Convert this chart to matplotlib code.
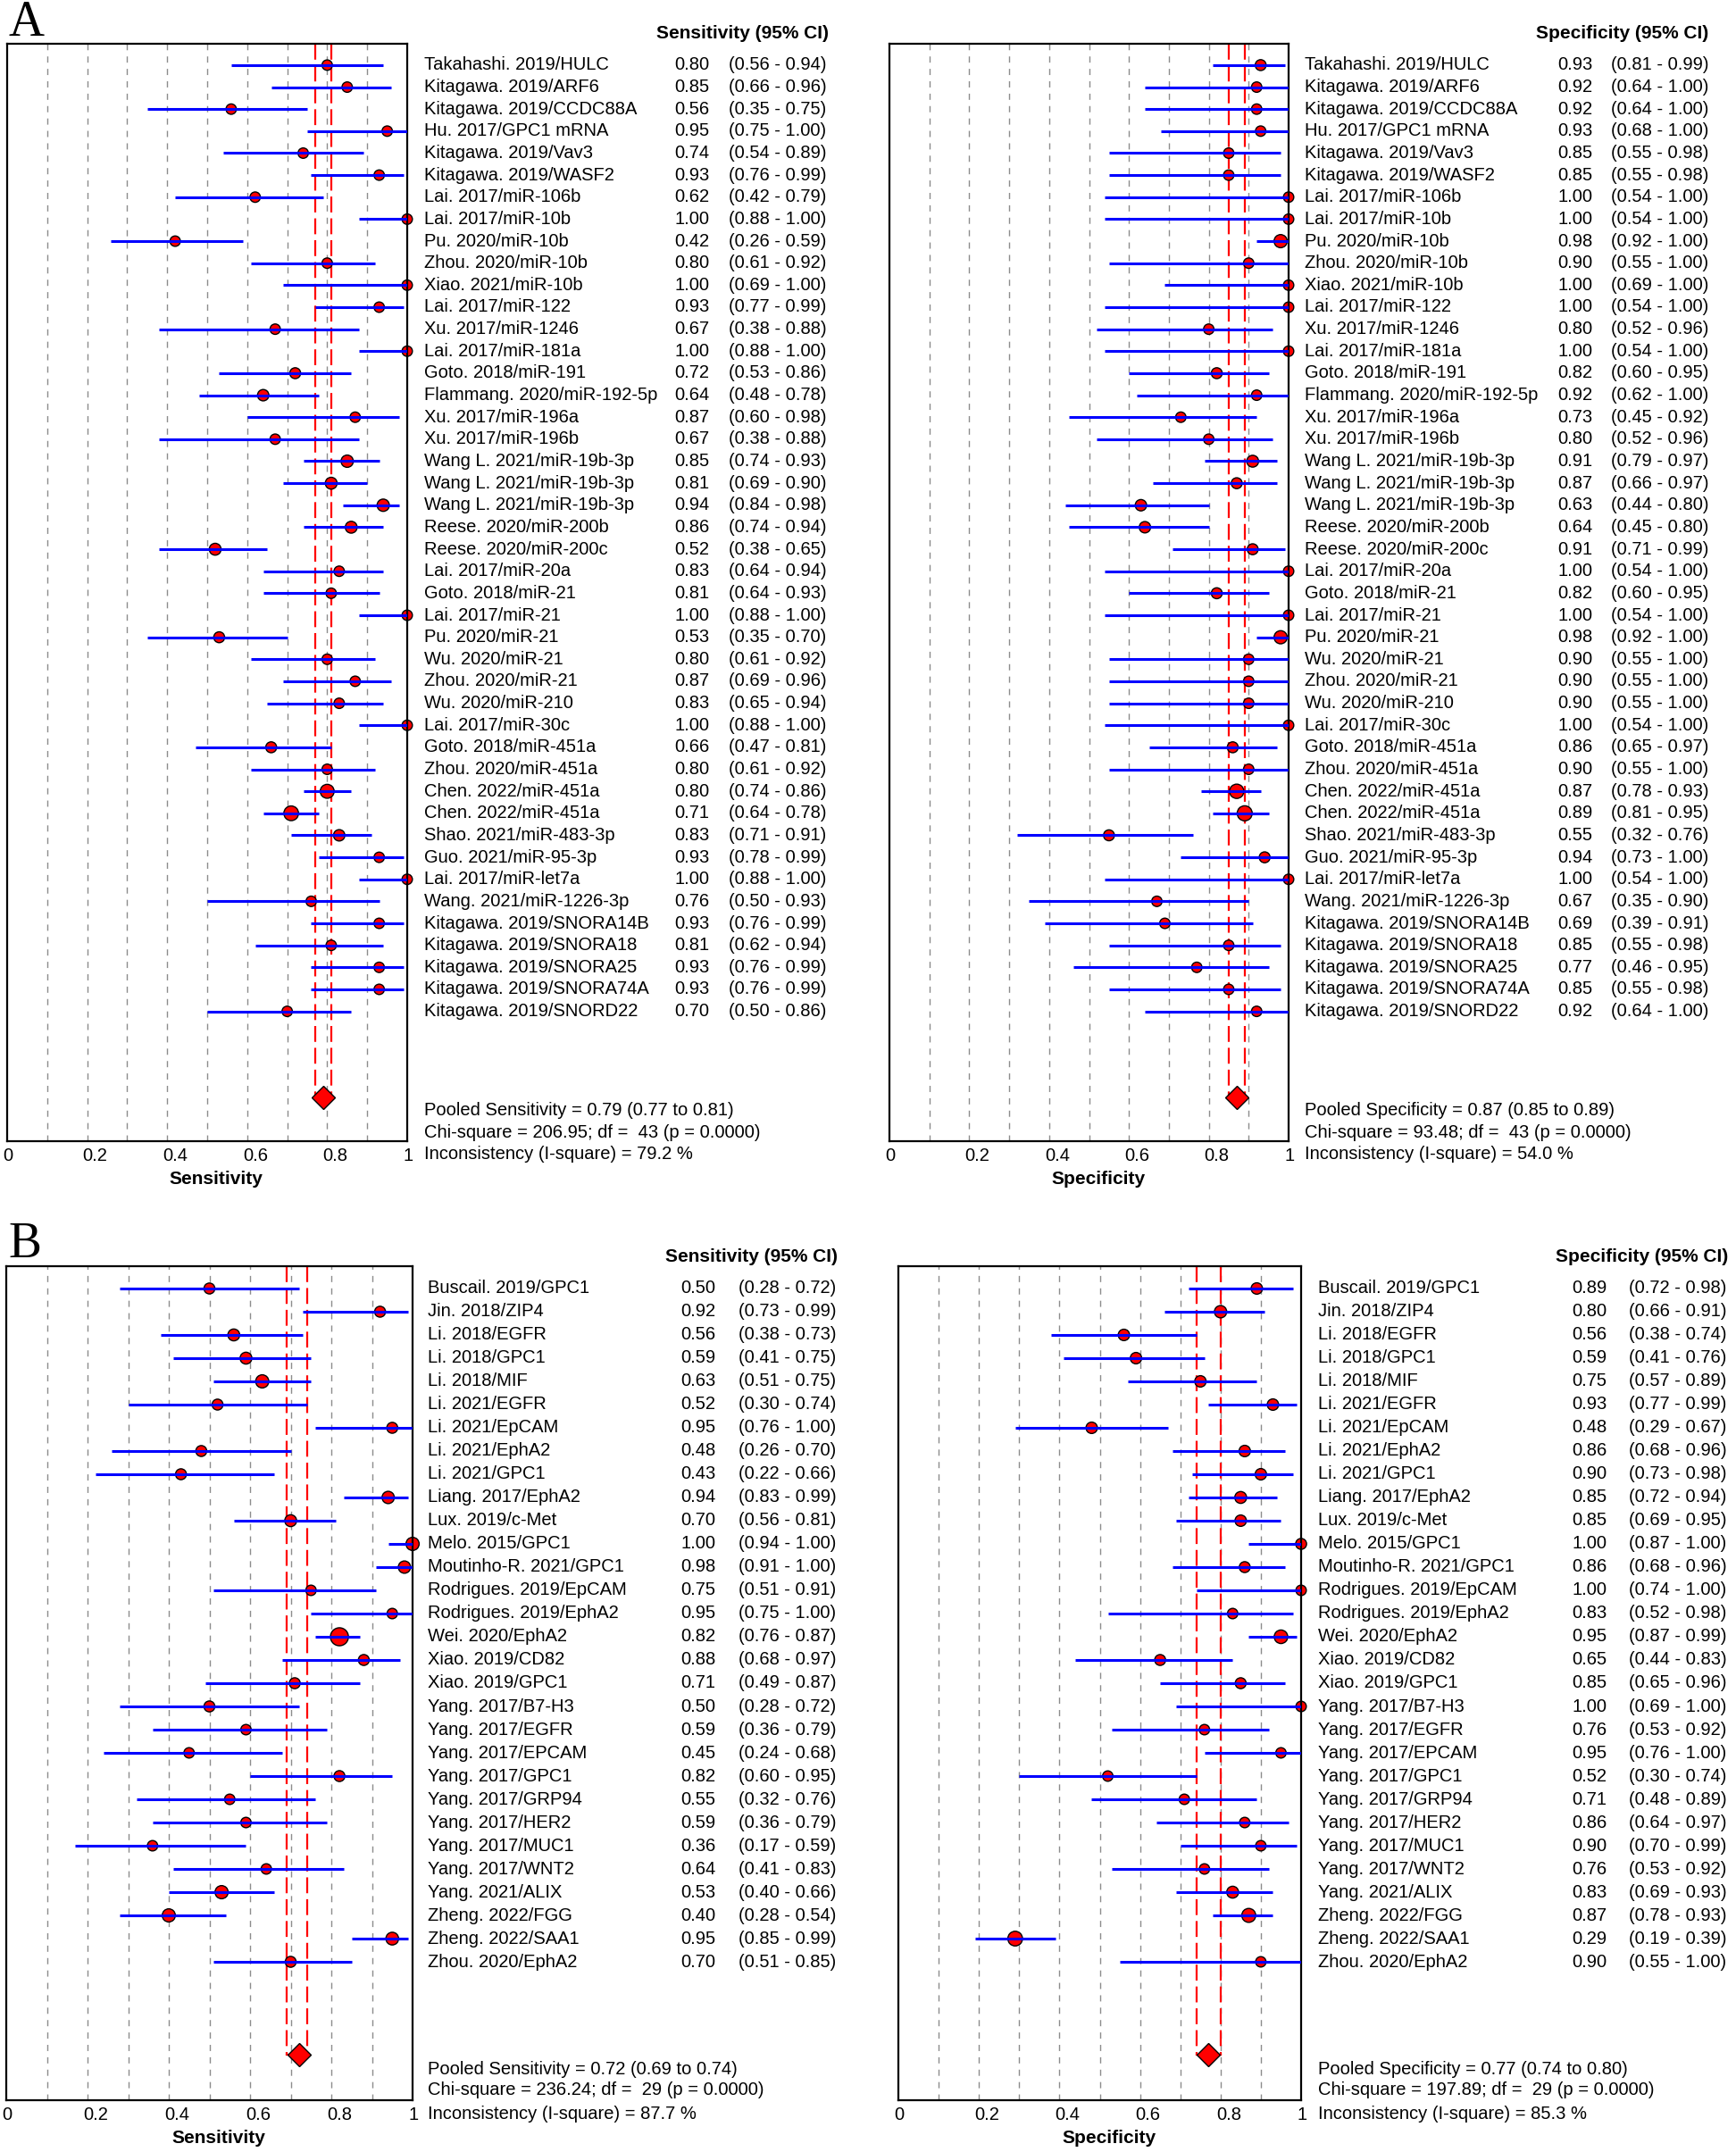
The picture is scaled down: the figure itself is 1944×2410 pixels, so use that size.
import matplotlib
matplotlib.use("Agg")
import matplotlib.pyplot as plt
import matplotlib.transforms as mtransforms
import numpy as np

plt.rcParams['font.family'] = ['Liberation Sans', 'DejaVu Sans']

# ---------------- panel A data ----------------
a_labels = ["Takahashi. 2019/HULC", "Kitagawa. 2019/ARF6", "Kitagawa. 2019/CCDC88A",
            "Hu. 2017/GPC1 mRNA", "Kitagawa. 2019/Vav3", "Kitagawa. 2019/WASF2",
            "Lai. 2017/miR-106b", "Lai. 2017/miR-10b", "Pu. 2020/miR-10b",
            "Zhou. 2020/miR-10b", "Xiao. 2021/miR-10b", "Lai. 2017/miR-122",
            "Xu. 2017/miR-1246", "Lai. 2017/miR-181a", "Goto. 2018/miR-191",
            "Flammang. 2020/miR-192-5p", "Xu. 2017/miR-196a", "Xu. 2017/miR-196b",
            "Wang L. 2021/miR-19b-3p", "Wang L. 2021/miR-19b-3p", "Wang L. 2021/miR-19b-3p",
            "Reese. 2020/miR-200b", "Reese. 2020/miR-200c", "Lai. 2017/miR-20a",
            "Goto. 2018/miR-21", "Lai. 2017/miR-21", "Pu. 2020/miR-21",
            "Wu. 2020/miR-21", "Zhou. 2020/miR-21", "Wu. 2020/miR-210",
            "Lai. 2017/miR-30c", "Goto. 2018/miR-451a", "Zhou. 2020/miR-451a",
            "Chen. 2022/miR-451a", "Chen. 2022/miR-451a", "Shao. 2021/miR-483-3p",
            "Guo. 2021/miR-95-3p", "Lai. 2017/miR-let7a", "Wang. 2021/miR-1226-3p",
            "Kitagawa. 2019/SNORA14B", "Kitagawa. 2019/SNORA18", "Kitagawa. 2019/SNORA25",
            "Kitagawa. 2019/SNORA74A", "Kitagawa. 2019/SNORD22"]

a_sens = [0.80, 0.85, 0.56, 0.95, 0.74, 0.93, 0.62, 1.00, 0.42, 0.80, 1.00, 0.93, 0.67, 1.00,
          0.72, 0.64, 0.87, 0.67, 0.85, 0.81, 0.94, 0.86, 0.52, 0.83, 0.81, 1.00, 0.53, 0.80,
          0.87, 0.83, 1.00, 0.66, 0.80, 0.80, 0.71, 0.83, 0.93, 1.00, 0.76, 0.93, 0.81, 0.93,
          0.93, 0.70]
a_sens_lo = [0.56, 0.66, 0.35, 0.75, 0.54, 0.76, 0.42, 0.88, 0.26, 0.61, 0.69, 0.77, 0.38, 0.88,
             0.53, 0.48, 0.60, 0.38, 0.74, 0.69, 0.84, 0.74, 0.38, 0.64, 0.64, 0.88, 0.35, 0.61,
             0.69, 0.65, 0.88, 0.47, 0.61, 0.74, 0.64, 0.71, 0.78, 0.88, 0.50, 0.76, 0.62, 0.76,
             0.76, 0.50]
a_sens_hi = [0.94, 0.96, 0.75, 1.00, 0.89, 0.99, 0.79, 1.00, 0.59, 0.92, 1.00, 0.99, 0.88, 1.00,
             0.86, 0.78, 0.98, 0.88, 0.93, 0.90, 0.98, 0.94, 0.65, 0.94, 0.93, 1.00, 0.70, 0.92,
             0.96, 0.94, 1.00, 0.81, 0.92, 0.86, 0.78, 0.91, 0.99, 1.00, 0.93, 0.99, 0.94, 0.99,
             0.99, 0.86]
a_sens_w = [1, 1, 1, 1, 1, 1, 1, 1, 1, 1, 1, 1, 1, 1, 1.1, 1.2, 1, 1, 1.4, 1.3, 1.4, 1.3, 1.3, 1,
            1, 1, 1.1, 1, 1, 1, 1, 1.1, 1, 1.8, 2.0, 1.2, 1, 1, 1, 1, 1, 1, 1, 1]

a_spec = [0.93, 0.92, 0.92, 0.93, 0.85, 0.85, 1.00, 1.00, 0.98, 0.90, 1.00, 1.00, 0.80, 1.00,
          0.82, 0.92, 0.73, 0.80, 0.91, 0.87, 0.63, 0.64, 0.91, 1.00, 0.82, 1.00, 0.98, 0.90,
          0.90, 0.90, 1.00, 0.86, 0.90, 0.87, 0.89, 0.55, 0.94, 1.00, 0.67, 0.69, 0.85, 0.77,
          0.85, 0.92]
a_spec_lo = [0.81, 0.64, 0.64, 0.68, 0.55, 0.55, 0.54, 0.54, 0.92, 0.55, 0.69, 0.54, 0.52, 0.54,
             0.60, 0.62, 0.45, 0.52, 0.79, 0.66, 0.44, 0.45, 0.71, 0.54, 0.60, 0.54, 0.92, 0.55,
             0.55, 0.55, 0.54, 0.65, 0.55, 0.78, 0.81, 0.32, 0.73, 0.54, 0.35, 0.39, 0.55, 0.46,
             0.55, 0.64]
a_spec_hi = [0.99, 1.00, 1.00, 1.00, 0.98, 0.98, 1.00, 1.00, 1.00, 1.00, 1.00, 1.00, 0.96, 1.00,
             0.95, 1.00, 0.92, 0.96, 0.97, 0.97, 0.80, 0.80, 0.99, 1.00, 0.95, 1.00, 1.00, 1.00,
             1.00, 1.00, 1.00, 0.97, 1.00, 0.93, 0.95, 0.76, 1.00, 1.00, 0.90, 0.91, 0.98, 0.95,
             0.98, 1.00]
a_spec_w = [1.1, 1, 1, 1, 1, 1, 1, 1, 1.6, 1, 1, 1, 1, 1, 1.1, 1, 1, 1, 1.3, 1.1, 1.2, 1.2, 1.1, 1,
            1.1, 1, 1.6, 1, 1, 1, 1, 1.1, 1, 1.9, 2.1, 1.1, 1.1, 1, 1, 1, 1, 1, 1, 1]

a_pooled_sens = (0.79, 0.77, 0.81)
a_pooled_spec = (0.87, 0.85, 0.89)
a_stats_sens = ("206.95", "43", "79.2")
a_stats_spec = ("93.48", "43", "54.0")

# ---------------- panel B data ----------------
b_labels = ["Buscail. 2019/GPC1", "Jin. 2018/ZIP4", "Li. 2018/EGFR", "Li. 2018/GPC1",
            "Li. 2018/MIF", "Li. 2021/EGFR", "Li. 2021/EpCAM", "Li. 2021/EphA2",
            "Li. 2021/GPC1", "Liang. 2017/EphA2", "Lux. 2019/c-Met", "Melo. 2015/GPC1",
            "Moutinho-R. 2021/GPC1", "Rodrigues. 2019/EpCAM", "Rodrigues. 2019/EphA2",
            "Wei. 2020/EphA2", "Xiao. 2019/CD82", "Xiao. 2019/GPC1", "Yang. 2017/B7-H3",
            "Yang. 2017/EGFR", "Yang. 2017/EPCAM", "Yang. 2017/GPC1", "Yang. 2017/GRP94",
            "Yang. 2017/HER2", "Yang. 2017/MUC1", "Yang. 2017/WNT2", "Yang. 2021/ALIX",
            "Zheng. 2022/FGG", "Zheng. 2022/SAA1", "Zhou. 2020/EphA2"]

b_sens = [0.50, 0.92, 0.56, 0.59, 0.63, 0.52, 0.95, 0.48, 0.43, 0.94, 0.70, 1.00, 0.98, 0.75,
          0.95, 0.82, 0.88, 0.71, 0.50, 0.59, 0.45, 0.82, 0.55, 0.59, 0.36, 0.64, 0.53, 0.40,
          0.95, 0.70]
b_sens_lo = [0.28, 0.73, 0.38, 0.41, 0.51, 0.30, 0.76, 0.26, 0.22, 0.83, 0.56, 0.94, 0.91, 0.51,
             0.75, 0.76, 0.68, 0.49, 0.28, 0.36, 0.24, 0.60, 0.32, 0.36, 0.17, 0.41, 0.40, 0.28,
             0.85, 0.51]
b_sens_hi = [0.72, 0.99, 0.73, 0.75, 0.75, 0.74, 1.00, 0.70, 0.66, 0.99, 0.81, 1.00, 1.00, 0.91,
             1.00, 0.87, 0.97, 0.87, 0.72, 0.79, 0.68, 0.95, 0.76, 0.79, 0.59, 0.83, 0.66, 0.54,
             0.99, 0.85]
b_sens_w = [1.1, 1.1, 1.3, 1.3, 1.6, 1.1, 1.1, 1.1, 1.1, 1.4, 1.3, 1.6, 1.4, 1, 1, 3.0, 1.1, 1.1,
            1.1, 1, 1, 1.1, 1, 1, 1, 1, 1.6, 1.6, 1.5, 1.1]

b_spec = [0.89, 0.80, 0.56, 0.59, 0.75, 0.93, 0.48, 0.86, 0.90, 0.85, 0.85, 1.00, 0.86, 1.00,
          0.83, 0.95, 0.65, 0.85, 1.00, 0.76, 0.95, 0.52, 0.71, 0.86, 0.90, 0.76, 0.83, 0.87,
          0.29, 0.90]
b_spec_lo = [0.72, 0.66, 0.38, 0.41, 0.57, 0.77, 0.29, 0.68, 0.73, 0.72, 0.69, 0.87, 0.68, 0.74,
             0.52, 0.87, 0.44, 0.65, 0.69, 0.53, 0.76, 0.30, 0.48, 0.64, 0.70, 0.53, 0.69, 0.78,
             0.19, 0.55]
b_spec_hi = [0.98, 0.91, 0.74, 0.76, 0.89, 0.99, 0.67, 0.96, 0.98, 0.94, 0.95, 1.00, 0.96, 1.00,
             0.98, 0.99, 0.83, 0.96, 1.00, 0.92, 1.00, 0.74, 0.89, 0.97, 0.99, 0.92, 0.93, 0.93,
             0.39, 1.00]
b_spec_w = [1.2, 1.4, 1.2, 1.2, 1.2, 1.2, 1.2, 1.2, 1.2, 1.3, 1.2, 1.1, 1.1, 1, 1, 1.7, 1.1, 1.1,
            1, 1, 1, 1, 1, 1, 1, 1, 1.3, 1.8, 2.0, 1]

b_pooled_sens = (0.72, 0.69, 0.74)
b_pooled_spec = (0.77, 0.74, 0.80)
b_stats_sens = ("236.24", "29", "87.7")
b_stats_spec = ("197.89", "29", "85.3")

# ---------------- drawing ----------------
W, H = 1944, 2410
fig = plt.figure(figsize=(W / 100, H / 100), dpi=100)
FS = 14.5
FSB = 15


def forest(box, labels, est, lo, hi, wts, pooled, stats, measure,
           ylims, ydiam, cols, yhead, ypool):
    l, r, t, b = box
    ax = fig.add_axes([l / W, 1 - b / H, (r - l) / W, (b - t) / H])
    ax.set_xlim(0, 1)
    ax.set_ylim(*ylims)
    y = np.arange(len(labels))

    for g in np.arange(0.1, 0.95, 0.1):
        ax.axvline(g, color='#8c8c8c', lw=1, ls=(0, (5, 5)), zorder=0)

    p, plo, phi = pooled
    for v in (plo, phi):
        ax.plot([v, v], [ylims[1], ydiam], color='red', lw=1.6, ls=(0, (8, 3)), zorder=1)
    ax.plot([plo, phi], [ydiam, ydiam], color='red', lw=1.6, zorder=1)

    ax.scatter(est, y, s=np.array(wts) * 70, c='red', edgecolors='black',
               linewidths=1, zorder=2, clip_on=False)
    ax.hlines(y, lo, hi, color='blue', lw=2.2, zorder=3)
    ax.plot(p, ydiam, marker='D', ms=13, mfc='red', mec='black', mew=1,
            zorder=4, clip_on=False)

    ax.set_xticks([0, 0.2, 0.4, 0.6, 0.8, 1])
    ax.set_xticklabels(['0', '0.2', '0.4', '0.6', '0.8', '1'])
    ax.set_yticks([])
    ax.tick_params(axis='x', length=0, pad=5, labelsize=FS)
    shift = mtransforms.ScaledTranslation(-5 / 100, 0, fig.dpi_scale_trans)
    for lab in ax.get_xticklabels():
        lab.set_horizontalalignment('left')
        lab.set_transform(lab.get_transform() + shift)
    ax.set_xlabel(measure, fontsize=FSB, fontweight='bold', labelpad=5,
                  x=0.5 + 10 / (r - l), ha='center')
    for s in ax.spines.values():
        s.set_linewidth(1.6)

    tr = mtransforms.blended_transform_factory(fig.transFigure, ax.transData)
    xl, xv, xc, xh = cols
    for i in y:
        ax.text(xl / W, i, labels[i], transform=tr, va='center', fontsize=FS)
        ax.text(xv / W, i, f"{est[i]:.2f}", transform=tr, va='center', fontsize=FS)
        ax.text(xc / W, i, f"({lo[i]:.2f} - {hi[i]:.2f})", transform=tr,
                va='center', fontsize=FS)
    ax.text(xh / W, yhead, f"{measure} (95% CI)", transform=tr, ha='right',
            va='center', fontsize=FSB, fontweight='bold')
    chi, df, i2 = stats
    lines = [f"Pooled {measure} = {p:.2f} ({plo:.2f} to {phi:.2f})",
             f"Chi-square = {chi}; df =  {df} (p = 0.0000)",
             f"Inconsistency (I-square) = {i2} %"]
    for yy, s in zip(ypool, lines):
        ax.text(xl / W, yy, s, transform=tr, va='center', fontsize=FS)
    return ax


forest((8, 456, 49, 1278), a_labels, a_sens, a_sens_lo, a_sens_hi, a_sens_w,
       a_pooled_sens, a_stats_sens, "Sensitivity",
       (48.9, -0.97), 46.9, (475, 755, 816, 928), -1.42, (47.5, 48.5, 49.5))
forest((996, 1443, 49, 1278), a_labels, a_spec, a_spec_lo, a_spec_hi, a_spec_w,
       a_pooled_spec, a_stats_spec, "Specificity",
       (48.9, -0.97), 46.9, (1461, 1744, 1804, 1913), -1.42, (47.5, 48.5, 49.5))
forest((7, 462, 1418, 2352), b_labels, b_sens, b_sens_lo, b_sens_hi, b_sens_w,
       b_pooled_sens, b_stats_sens, "Sensitivity",
       (34.96, -0.96), 33.0, (479, 762, 827, 938), -1.38, (33.65, 34.5, 35.54))
forest((1006, 1457, 1418, 2352), b_labels, b_spec, b_spec_lo, b_spec_hi, b_spec_w,
       b_pooled_spec, b_stats_spec, "Specificity",
       (34.96, -0.96), 33.0, (1476, 1760, 1824, 1935), -1.38, (33.65, 34.5, 35.54))

fig.text(9 / W, 1 - 0 / H, "A", family='Liberation Serif', fontsize=40, va='top')
fig.text(9 / W, 1 - 1368 / H, "B", family='Liberation Serif', fontsize=40, va='top')

fig.savefig("out.png", dpi=100)
